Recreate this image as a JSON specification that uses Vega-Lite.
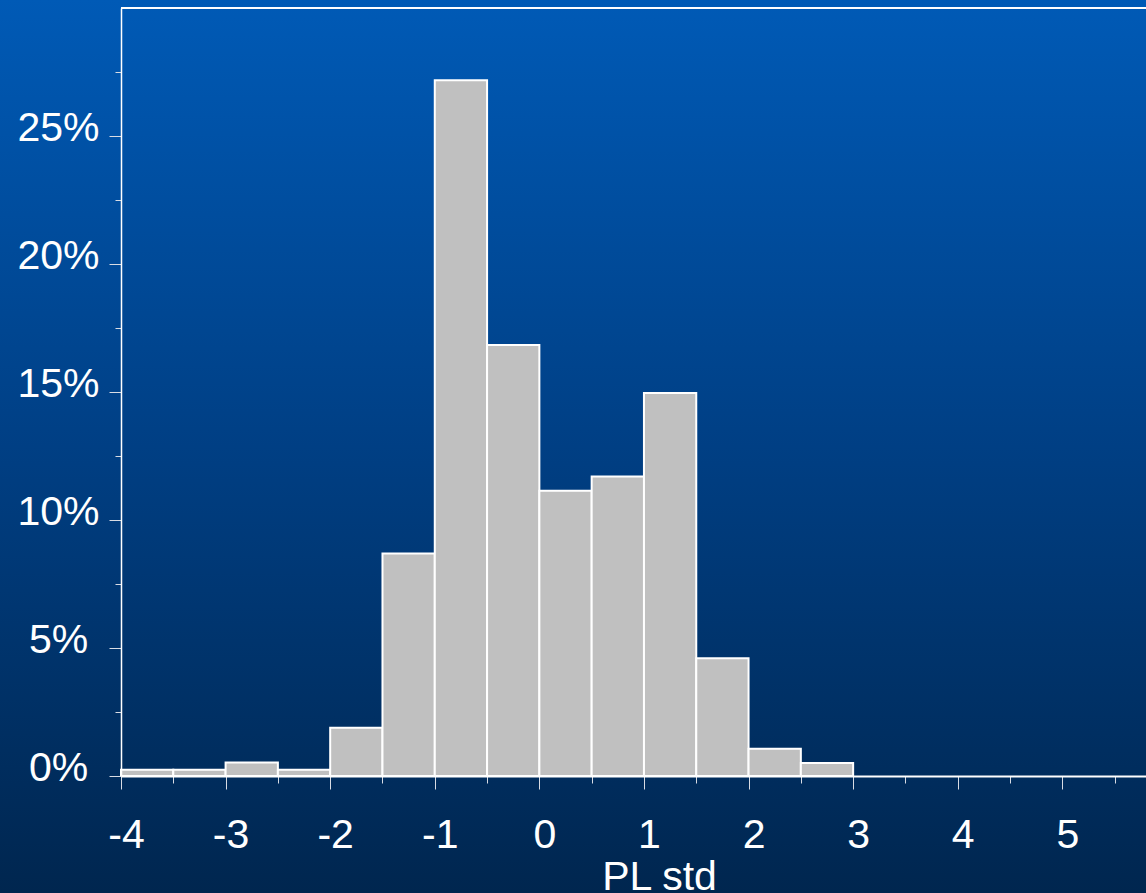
{
  "$schema": "https://vega.github.io/schema/vega-lite/v6.json",
  "width": 1025,
  "height": 768,
  "autosize": {"type": "none"},
  "padding": {"left": 121, "top": 8, "right": 0, "bottom": 117},
  "background": "#003a7a",
  "config": {
    "view": {"stroke": null},
    "axis": {
      "labelFont": "Liberation Sans",
      "titleFont": "Liberation Sans",
      "labelColor": "white",
      "titleColor": "white",
      "labelFontSize": 41,
      "titleFontSize": 41,
      "titleFontWeight": "normal",
      "domainColor": "white",
      "tickColor": "#d8dce4",
      "grid": false
    }
  },
  "data": {
    "values": [
      {"bin_start": -4.0, "bin_end": -3.5, "share": 0.00245},
      {"bin_start": -3.5, "bin_end": -3.0, "share": 0.00245},
      {"bin_start": -3.0, "bin_end": -2.5, "share": 0.0053},
      {"bin_start": -2.5, "bin_end": -2.0, "share": 0.00245},
      {"bin_start": -2.0, "bin_end": -1.5, "share": 0.0188},
      {"bin_start": -1.5, "bin_end": -1.0, "share": 0.0869},
      {"bin_start": -1.0, "bin_end": -0.5, "share": 0.2718},
      {"bin_start": -0.5, "bin_end": 0.0, "share": 0.1684},
      {"bin_start": 0.0, "bin_end": 0.5, "share": 0.1114},
      {"bin_start": 0.5, "bin_end": 1.0, "share": 0.1170},
      {"bin_start": 1.0, "bin_end": 1.5, "share": 0.1496},
      {"bin_start": 1.5, "bin_end": 2.0, "share": 0.0460},
      {"bin_start": 2.0, "bin_end": 2.5, "share": 0.0106},
      {"bin_start": 2.5, "bin_end": 3.0, "share": 0.0051}
    ]
  },
  "layer": [
    {
      "mark": {
        "type": "rect",
        "clip": false,
        "fill": {
          "gradient": "linear",
          "x1": 0, "y1": 0, "x2": 0, "y2": 1,
          "stops": [
            {"offset": 0, "color": "#005ab6"},
            {"offset": 0.5, "color": "#003f84"},
            {"offset": 1, "color": "#00264f"}
          ]
        }
      },
      "encoding": {
        "x": {"datum": -5.2, "type": "quantitative"},
        "x2": {"datum": 5.9},
        "y": {"datum": -0.0458, "type": "quantitative"},
        "y2": {"datum": 0.30313}
      }
    },
    {
      "mark": {"type": "rect", "fill": "#c0c0c0", "stroke": "white", "strokeWidth": 2},
      "encoding": {
        "x": {
          "field": "bin_start",
          "type": "quantitative",
          "scale": {"domain": [-4, 5.8], "nice": false, "zero": false},
          "axis": {
            "zindex": 2,
            "values": [-4, -3.5, -3, -2.5, -2, -1.5, -1, -0.5, 0, 0.5, 1, 1.5, 2, 2.5, 3, 3.5, 4, 4.5, 5, 5.5],
            "labelExpr": "abs(datum.value - round(datum.value)) < 0.001 ? ('' + datum.value) : ''",
            "tickSize": {"condition": {"test": "abs(datum.value - round(datum.value)) < 0.001", "value": 13}, "value": 7},
            "domainWidth": 2,
            "labelBaseline": "alphabetic",
            "labelPadding": 58,
            "labelOffset": 5,
            "labelFlush": false,
            "labelOverlap": false,
            "title": "PL std",
            "titleX": 538,
            "titleY": 113,
            "titleBaseline": "alphabetic",
            "titleAlign": "center",
            "titleAnchor": null
          }
        },
        "x2": {"field": "bin_end"},
        "y": {
          "field": "share",
          "type": "quantitative",
          "scale": {"domain": [0, 0.3], "nice": false},
          "axis": {
            "zindex": 2,
            "values": [0, 0.025, 0.05, 0.075, 0.1, 0.125, 0.15, 0.175, 0.2, 0.225, 0.25, 0.275],
            "labelExpr": "abs(datum.value * 20 - round(datum.value * 20)) < 0.001 ? format(datum.value, '.0%') : ''",
            "tickSize": {"condition": {"test": "abs(datum.value * 20 - round(datum.value * 20)) < 0.001", "value": 12}, "value": 6},
            "domainWidth": 1.5,
            "labelAlign": "center",
            "labelBaseline": "alphabetic",
            "labelOffset": 4,
            "labelPadding": 51,
            "labelFlush": false,
            "labelOverlap": false,
            "title": null
          }
        },
        "y2": {"datum": 0}
      }
    },
    {
      "mark": {"type": "rule", "color": "white", "strokeWidth": 1.5},
      "encoding": {
        "y": {"datum": 0.3, "type": "quantitative"}
      }
    }
  ]
}
